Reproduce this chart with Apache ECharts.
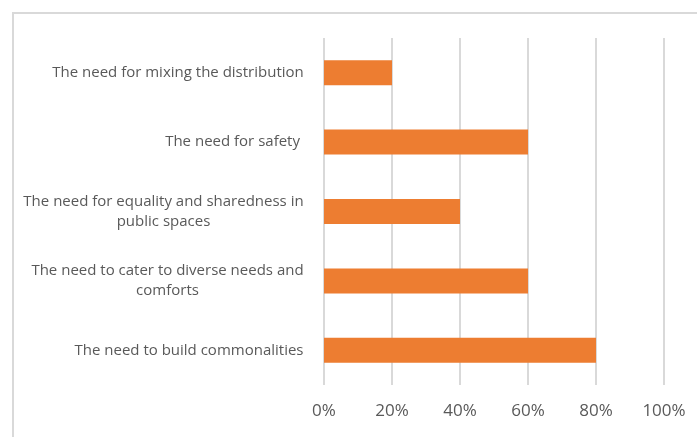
<!DOCTYPE html>
<html>
<head>
<meta charset="utf-8">
<style>
  html, body { margin: 0; padding: 0; background: #fff; }
  #chart { width: 697px; height: 437px; }
</style>
<script src="https://cdn.jsdelivr.net/npm/echarts@6/dist/echarts.min.js"></script>
</head>
<body>
<div id="chart"></div>
<script>
// Categories listed bottom-to-top (ECharts category y-axis starts at the bottom)
const categories = [
  'The need to build commonalities',
  'The need to cater to diverse needs and\ncomforts',
  'The need for equality and sharedness in\npublic spaces',
  'The need for safety ',
  'The need for mixing the distribution'
];
const shares = [0.8, 0.6, 0.4, 0.6, 0.2];
const tickValues = [0, 0.2, 0.4, 0.6, 0.8, 1.0];

const fontFamily = '"Open Sans", "Liberation Sans", Arial, sans-serif';
const labelColor = '#595959';

// Multi-line labels are centred line by line inside their own block width
const ctx = document.createElement('canvas').getContext('2d');
ctx.font = '15px ' + fontFamily;
const rich = {};
const labelMap = {};
categories.forEach((c, i) => {
  const lines = c.split('\n');
  const w = Math.max(...lines.map(l => ctx.measureText(l).width));
  rich['c' + i] = { width: Math.ceil(w), align: 'center', fontSize: 15, color: labelColor,
    lineHeight: 20, fontFamily: fontFamily };
  labelMap[c] = lines.map(l => '{c' + i + '|' + l + '}').join('\n');
});

const chart = echarts.init(document.getElementById('chart'), null, { renderer: 'canvas' });
chart.setOption({
  animation: false,
  backgroundColor: '#fff',
  graphic: [{
    type: 'rect',
    shape: { x: 13, y: 13, width: 720, height: 460 },
    style: { fill: 'none', stroke: '#d9d9d9', lineWidth: 2 },
    silent: true
  }],
  grid: { left: 324, right: 33, top: 38, bottom: 52, containLabel: false },
  xAxis: {
    type: 'value',
    min: 0,
    max: 1,
    interval: 0.2,
    axisLine: { show: false },
    axisTick: { show: false },
    splitLine: { show: true, lineStyle: { color: '#d9d9d9', width: 2 } },
    axisLabel: {
      margin: 18,
      color: labelColor,
      fontSize: 17,
      fontFamily: fontFamily,
      formatter: v => {
        const t = tickValues.find(x => Math.abs(x - v) < 1e-9);
        return t === undefined ? '' : Math.round(t * 100) + '%';
      }
    }
  },
  yAxis: {
    type: 'category',
    data: categories,
    axisLine: { show: false },
    axisTick: { show: false },
    splitLine: { show: false },
    axisLabel: {
      margin: 20,
      interval: 0,
      rich: rich,
      formatter: v => labelMap[v]
    }
  },
  series: [{
    type: 'bar',
    data: shares,
    barWidth: 25,
    itemStyle: { color: '#ED7D31' }
  }]
});
</script>
</body>
</html>
